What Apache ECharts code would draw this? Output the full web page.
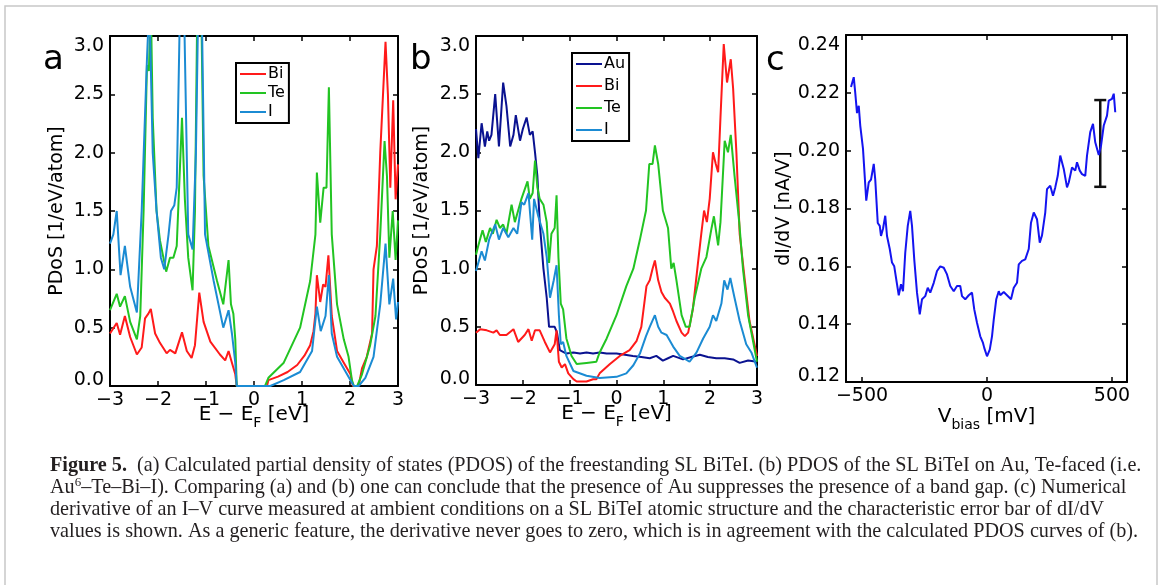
<!DOCTYPE html>
<html><head><meta charset="utf-8">
<script src="https://cdn.jsdelivr.net/npm/echarts@6/dist/echarts.min.js"></script>
<style>html,body{margin:0;padding:0;background:#fff}#c{width:1168px;height:585px}</style>
</head><body><div id="c"></div>
<script>
// ---------- Panel a: freestanding SL BiTeI PDOS  [E (eV), PDOS] ----------
const aBi = [[-3.00,0.45],[-2.86,0.54],[-2.79,0.44],[-2.69,0.60],[-2.58,0.42],[-2.44,0.27],[-2.34,0.33],[-2.27,0.58],[-2.20,0.62],[-2.15,0.66],[-2.06,0.45],[-1.96,0.37],[-1.82,0.28],[-1.75,0.31],[-1.64,0.28],[-1.50,0.46],[-1.40,0.30],[-1.30,0.24],[-1.23,0.35],[-1.14,0.80],[-1.05,0.55],[-0.91,0.38],[-0.71,0.27],[-0.60,0.22],[-0.53,0.30],[-0.46,0.20],[-0.39,0.10],[-0.36,0.00],[0.27,0.00],[0.30,0.05],[0.50,0.08],[0.70,0.12],[0.90,0.18],[1.05,0.26],[1.17,0.35],[1.24,0.47],[1.28,0.62],[1.31,0.95],[1.38,0.72],[1.44,0.87],[1.49,0.85],[1.55,1.12],[1.62,0.60],[1.73,0.30],[1.87,0.20],[2.01,0.10],[2.06,0.00],[2.18,0.00],[2.25,0.15],[2.35,0.25],[2.46,0.45],[2.49,1.00],[2.56,1.20],[2.63,2.00],[2.74,2.95],[2.79,2.50],[2.84,1.70],[2.90,2.45],[2.95,1.60],[3.00,1.90]];
const aTe = [[-3.00,0.65],[-2.86,0.79],[-2.79,0.68],[-2.69,0.77],[-2.58,0.55],[-2.44,0.40],[-2.37,0.60],[-2.30,1.50],[-2.23,2.75],[-2.19,2.70],[-2.15,3.30],[-2.11,2.30],[-2.03,1.50],[-1.96,1.25],[-1.83,0.98],[-1.75,1.10],[-1.68,1.10],[-1.61,1.20],[-1.50,2.30],[-1.44,1.60],[-1.37,1.10],[-1.28,0.82],[-1.23,1.50],[-1.18,3.30],[-1.10,3.30],[-1.05,1.80],[-0.95,1.20],[-0.77,0.90],[-0.64,0.70],[-0.53,1.08],[-0.48,0.70],[-0.43,0.62],[-0.39,0.40],[-0.36,0.00],[0.23,0.00],[0.30,0.07],[0.62,0.20],[0.96,0.50],[1.17,0.90],[1.28,1.30],[1.31,1.83],[1.38,1.40],[1.45,1.70],[1.51,1.70],[1.56,2.56],[1.62,1.30],[1.73,0.70],[1.87,0.40],[1.97,0.25],[2.04,0.05],[2.08,0.00],[2.15,0.00],[2.25,0.10],[2.42,0.35],[2.53,0.60],[2.63,1.30],[2.72,2.10],[2.77,1.80],[2.82,1.10],[2.89,1.50],[2.95,1.08],[3.00,1.42]];
const aI = [[-3.00,1.22],[-2.93,1.30],[-2.86,1.50],[-2.78,0.95],[-2.69,1.20],[-2.58,0.85],[-2.44,0.63],[-2.34,1.50],[-2.23,2.80],[-2.18,3.30],[-2.11,2.00],[-2.03,1.50],[-1.94,1.10],[-1.87,1.00],[-1.78,1.30],[-1.73,1.50],[-1.66,1.55],[-1.61,1.70],[-1.54,3.30],[-1.46,3.30],[-1.37,1.30],[-1.28,1.17],[-1.21,2.00],[-1.16,3.30],[-1.09,3.30],[-1.02,1.30],[-0.84,0.90],[-0.64,0.50],[-0.53,0.65],[-0.46,0.45],[-0.39,0.20],[-0.36,0.00],[0.34,0.00],[0.62,0.05],[0.96,0.12],[1.21,0.30],[1.31,0.68],[1.39,0.47],[1.49,0.60],[1.56,0.95],[1.62,0.45],[1.73,0.25],[1.87,0.15],[2.01,0.05],[2.08,0.00],[2.18,0.00],[2.32,0.07],[2.49,0.25],[2.63,0.70],[2.74,1.22],[2.82,0.70],[2.90,0.92],[2.96,0.57],[3.00,0.72]];

// ---------- Panel b: SL BiTeI on Au PDOS ----------
const bAu = [[-3.00,2.20],[-2.95,1.95],[-2.88,2.25],[-2.81,2.05],[-2.76,2.18],[-2.72,2.10],[-2.67,2.15],[-2.59,2.50],[-2.51,2.05],[-2.42,2.60],[-2.35,2.40],[-2.27,2.05],[-2.20,2.15],[-2.15,2.32],[-2.06,2.10],[-2.00,2.20],[-1.92,2.30],[-1.85,2.15],[-1.79,2.18],[-1.74,2.00],[-1.69,1.80],[-1.64,1.40],[-1.56,1.00],[-1.49,0.75],[-1.44,0.50],[-1.32,0.50],[-1.27,0.45],[-1.21,0.30],[-1.07,0.27],[-0.92,0.28],[-0.78,0.27],[-0.64,0.28],[-0.50,0.27],[-0.36,0.28],[-0.21,0.27],[0.00,0.27],[0.18,0.26],[0.35,0.25],[0.53,0.24],[0.71,0.23],[0.85,0.25],[0.99,0.21],[1.10,0.23],[1.21,0.25],[1.42,0.22],[1.60,0.24],[1.78,0.26],[1.95,0.24],[2.13,0.23],[2.31,0.23],[2.49,0.22],[2.63,0.19],[2.81,0.21],[3.00,0.20]];
const bBi = [[-3.00,0.45],[-2.91,0.48],[-2.77,0.47],[-2.63,0.45],[-2.56,0.47],[-2.49,0.43],[-2.35,0.43],[-2.20,0.48],[-2.10,0.37],[-1.96,0.43],[-1.88,0.48],[-1.81,0.38],[-1.74,0.47],[-1.64,0.47],[-1.53,0.37],[-1.42,0.28],[-1.32,0.35],[-1.28,0.47],[-1.23,0.20],[-1.17,0.15],[-1.10,0.18],[-1.03,0.10],[-0.92,0.05],[-0.85,0.03],[-0.64,0.03],[-0.50,0.05],[-0.43,0.05],[-0.36,0.10],[-0.14,0.18],[0.07,0.25],[0.28,0.30],[0.43,0.38],[0.53,0.50],[0.64,0.85],[0.71,0.90],[0.77,1.00],[0.82,1.07],[0.89,0.90],[0.96,0.80],[1.03,0.75],[1.14,0.70],[1.21,0.63],[1.28,0.55],[1.39,0.45],[1.46,0.42],[1.53,0.45],[1.63,0.65],[1.74,1.05],[1.81,1.30],[1.87,1.50],[1.93,1.40],[1.99,1.60],[2.06,2.00],[2.12,1.90],[2.17,1.83],[2.22,2.30],[2.29,2.93],[2.36,2.60],[2.44,2.80],[2.49,2.55],[2.56,2.00],[2.63,1.30],[2.74,0.90],[2.84,0.55],[3.00,0.25]];
const bTe = [[-3.00,1.12],[-2.95,1.20],[-2.86,1.33],[-2.79,1.23],[-2.70,1.35],[-2.64,1.30],[-2.56,1.42],[-2.49,1.35],[-2.42,1.38],[-2.35,1.30],[-2.24,1.55],[-2.17,1.40],[-2.10,1.50],[-2.03,1.60],[-1.90,1.75],[-1.85,1.60],[-1.79,1.65],[-1.74,1.93],[-1.69,1.70],[-1.64,1.60],[-1.56,1.55],[-1.49,1.40],[-1.44,1.05],[-1.39,1.30],[-1.32,1.35],[-1.28,1.63],[-1.24,1.10],[-1.19,0.70],[-1.14,0.65],[-1.07,0.40],[-0.96,0.25],[-0.85,0.18],[-0.64,0.19],[-0.43,0.20],[-0.36,0.28],[-0.21,0.40],[0.00,0.60],[0.21,0.85],[0.36,1.00],[0.50,1.25],[0.63,1.50],[0.70,1.90],[0.77,1.90],[0.82,2.06],[0.89,1.90],[0.99,1.50],[1.10,1.35],[1.17,1.00],[1.22,1.05],[1.28,0.90],[1.39,0.60],[1.48,0.50],[1.56,0.50],[1.67,0.75],[1.81,1.00],[1.92,1.10],[2.03,1.35],[2.08,1.45],[2.17,1.20],[2.22,1.40],[2.31,2.10],[2.38,2.00],[2.44,2.15],[2.52,1.80],[2.62,1.40],[2.70,1.00],[2.81,0.60],[3.00,0.20]];
const bI = [[-3.00,0.98],[-2.88,1.15],[-2.81,1.07],[-2.72,1.25],[-2.59,1.38],[-2.51,1.25],[-2.42,1.35],[-2.31,1.27],[-2.20,1.35],[-2.12,1.30],[-2.03,1.57],[-1.97,1.55],[-1.88,1.65],[-1.83,1.40],[-1.80,1.25],[-1.76,1.60],[-1.67,1.45],[-1.56,1.30],[-1.49,1.10],[-1.42,0.75],[-1.34,0.90],[-1.28,1.03],[-1.23,0.60],[-1.19,0.35],[-1.14,0.37],[-1.07,0.25],[-0.92,0.12],[-0.64,0.08],[-0.36,0.06],[0.00,0.07],[0.21,0.10],[0.36,0.17],[0.50,0.27],[0.63,0.42],[0.71,0.50],[0.82,0.60],[0.89,0.50],[0.96,0.45],[1.07,0.43],[1.21,0.33],[1.35,0.25],[1.48,0.22],[1.56,0.20],[1.71,0.28],[1.85,0.40],[1.99,0.50],[2.06,0.60],[2.13,0.55],[2.24,0.70],[2.30,0.90],[2.37,0.82],[2.43,0.92],[2.52,0.75],[2.63,0.55],[2.77,0.35],[2.88,0.28],[3.00,0.15]];

// ---------- Panel c: measured dI/dV  [V_bias (mV), dI/dV (nA/V)] ----------
const cDidv = [[-544,0.222],[-533,0.2254],[-527,0.220],[-520,0.213],[-513,0.2155],[-507,0.2087],[-496,0.2006],[-491,0.1937],[-483,0.1827],[-473,0.189],[-464,0.190],[-453,0.1954],[-447,0.190],[-437,0.175],[-429,0.174],[-424,0.1705],[-416,0.173],[-407,0.1775],[-400,0.1705],[-389,0.166],[-380,0.1613],[-371,0.160],[-363,0.1555],[-353,0.150],[-344,0.1538],[-336,0.1514],[-327,0.1647],[-317,0.174],[-307,0.1792],[-300,0.174],[-291,0.1624],[-280,0.1509],[-269,0.1434],[-260,0.1486],[-247,0.1497],[-237,0.1526],[-227,0.1509],[-213,0.1543],[-200,0.1584],[-187,0.160],[-173,0.1595],[-160,0.1572],[-147,0.1532],[-133,0.1514],[-120,0.1532],[-107,0.1532],[-100,0.1497],[-87,0.1486],[-73,0.150],[-60,0.1509],[-51,0.1451],[-40,0.1405],[-27,0.1358],[-16,0.1335],[-11,0.1318],[0,0.1289],[11,0.1312],[20,0.1358],[27,0.1416],[37,0.1486],[47,0.1514],[53,0.150],[67,0.1511],[80,0.150],[96,0.1486],[107,0.1526],[120,0.1543],[127,0.1607],[140,0.1619],[153,0.1624],[167,0.166],[176,0.1751],[187,0.1786],[200,0.1763],[211,0.1682],[220,0.1707],[233,0.1786],[240,0.1867],[253,0.1879],[264,0.1844],[273,0.1873],[283,0.1913],[293,0.1983],[307,0.1937],[320,0.1873],[327,0.189],[340,0.1942],[353,0.1931],[360,0.196],[371,0.1931],[380,0.1919],[393,0.1913],[400,0.1983],[413,0.2064],[424,0.2093],[433,0.2029],[447,0.1985],[456,0.2017],[467,0.2087],[480,0.2121],[487,0.2173],[500,0.2179],[507,0.2197],[513,0.2133]];
const cErrorBar = [[453, 0.1875, 0.2175]]; // [V, low, high]

// ---------- ticks / labels ----------
const eTicks = [-3,-2,-1,0,1,2,3];
const pdosTicks = [0,0.5,1,1.5,2,2.5,3];
const vTicks = [-500,0,500];
const didvTicks = [0.12,0.14,0.16,0.18,0.20,0.22,0.24];
const legendA = ['Bi','Te','I'];
const legendB = ['Au','Bi','Te','I'];
const caption = [
  '{b|Figure 5.}  (a) Calculated partial density of states (PDOS) of the freestanding SL BiTeI. (b) PDOS of the SL BiTeI on Au, Te-faced (i.e.',
  'Au{sup|6}–Te–Bi–I). Comparing (a) and (b) one can conclude that the presence of Au suppresses the presence of a band gap. (c) Numerical',
  'derivative of an I–V curve measured at ambient conditions on a SL BiTeI atomic structure and the characteristic error bar of dI/dV',
  'values is shown. As a generic feature, the derivative never goes to zero, which is in agreement with the calculated PDOS curves of (b).'
];

const COL = {Au:'#0a1290', Bi:'#ff1a1a', Te:'#22c422', I:'#1b8bd3', c:'#1414f0'};
const FONT = 'DejaVu Sans';
const TFS = 19;
const minus = v => (v < 0 ? '\u2212' + Math.abs(v) : String(v));

function xAxes(gi, min, max, ticks, fmt, name, gap) {
  const base = {gridIndex: gi, type: 'value', min: min, max: max,
    splitLine: {show: false},
    axisLine: {show: true, onZero: false, lineStyle: {color: '#000', width: 2}},
    axisTick: {show: true, inside: true, length: 5, customValues: ticks, lineStyle: {color: '#000', width: 1.5}}};
  return [
    Object.assign({}, base, {position: 'bottom',
      axisLabel: {show: true, customValues: ticks, formatter: fmt, color: '#000', fontFamily: FONT, fontSize: TFS, margin: 5},
      name: name, nameLocation: 'middle', nameGap: gap, nameMoveOverlap: false,
      nameTextStyle: {color: '#000', fontFamily: FONT, fontSize: 20, lineHeight: 22,
        rich: {s: {fontFamily: FONT, fontSize: 14, color: '#000', lineHeight: 30, verticalAlign: 'bottom'}}}}),
    Object.assign({}, base, {position: 'top', axisLabel: {show: false}})
  ];
}
function yAxes(gi, min, max, ticks, fmt, name, gap) {
  const base = {gridIndex: gi, type: 'value', min: min, max: max,
    splitLine: {show: false},
    axisLine: {show: true, onZero: false, lineStyle: {color: '#000', width: 2}},
    axisTick: {show: true, inside: true, length: 5, customValues: ticks, lineStyle: {color: '#000', width: 1.5}}};
  return [
    Object.assign({}, base, {position: 'left',
      axisLabel: {show: true, customValues: ticks, color: '#000', fontFamily: FONT, fontSize: TFS, margin: 6, lineHeight: 12,
        formatter: v => (Math.abs(v - max) < 1e-9 ? '{t|' + fmt(v) + '}' : fmt(v)),
        rich: {t: {fontFamily: FONT, fontSize: TFS, color: '#000', lineHeight: 12, padding: [9, 0, 0, 0]}},
        verticalAlignMinLabel: 'bottom', verticalAlignMaxLabel: 'top'},
      name: name, nameLocation: 'middle', nameGap: gap, nameMoveOverlap: false,
      nameTextStyle: {color: '#000', fontFamily: FONT, fontSize: TFS}}),
    Object.assign({}, base, {position: 'right', axisLabel: {show: false}})
  ];
}

const eName = 'E \u2212 E{s|F} [eV]';
const xAxis = [].concat(
  xAxes(0, -3, 3, eTicks, minus, eName, 14),
  xAxes(1, -3, 3, eTicks, minus, eName, 14),
  xAxes(2, -564, 560, vTicks, minus, 'V{s|bias} [mV]', 20)
);
const yAxis = [].concat(
  yAxes(0, 0, 3, pdosTicks, v => v.toFixed(1), 'PDoS [1/eV/atom]', 43),
  yAxes(1, 0, 3, pdosTicks, v => v.toFixed(1), 'PDoS [1/eV/atom]', 44),
  yAxes(2, 0.12, 0.24, didvTicks, v => v.toFixed(2), 'dI/dV [nA/V]', 52)
);

function line(name, data, xi, yi, color) {
  return {type: 'line', name: name, data: data, xAxisIndex: xi, yAxisIndex: yi,
    showSymbol: false, symbol: 'none', clip: true,
    lineStyle: {color: color, width: 2}, itemStyle: {color: color}};
}
const series = [
  line('Bi', aBi, 0, 0, COL.Bi), line('Te', aTe, 0, 0, COL.Te), line('I', aI, 0, 0, COL.I),
  line('Au', bAu, 2, 2, COL.Au), line('Bi', bBi, 2, 2, COL.Bi), line('Te', bTe, 2, 2, COL.Te), line('I', bI, 2, 2, COL.I),
  line('dI/dV', cDidv, 4, 4, COL.c),
  {type: 'custom', name: 'error', xAxisIndex: 4, yAxisIndex: 4, data: cErrorBar, encode: {x: 0, y: [1, 2]},
    renderItem: function (params, api) {
      const lo = api.coord([api.value(0), api.value(1)]);
      const hi = api.coord([api.value(0), api.value(2)]);
      const hw = 6, st = {stroke: '#111', lineWidth: 2.5};
      return {type: 'group', children: [
        {type: 'line', shape: {x1: lo[0], y1: lo[1], x2: hi[0], y2: hi[1]}, style: st},
        {type: 'line', shape: {x1: lo[0] - hw, y1: lo[1], x2: lo[0] + hw, y2: lo[1]}, style: st},
        {type: 'line', shape: {x1: hi[0] - hw, y1: hi[1], x2: hi[0] + hw, y2: hi[1]}, style: st}
      ]};
    }}
];

const legendCommon = {orient: 'vertical', selectedMode: false, icon: 'rect', itemWidth: 26, itemHeight: 2,
  borderColor: '#000', borderWidth: 2, backgroundColor: '#fff', padding: [2, 4, 2, 4],
  textStyle: {fontFamily: FONT, fontSize: 16, color: '#000', lineHeight: 18, padding: [0, 0, 0, -3]}};
const legend = [
  Object.assign({}, legendCommon, {left: 236, top: 63, data: legendA, itemGap: 1}),
  Object.assign({}, legendCommon, {left: 572, top: 53, data: legendB, itemGap: 4})
];

// caption font size fit
const plain = caption[1].replace(/\{sup\|6\}/, '6');
const cv = document.createElement('canvas').getContext('2d');
cv.font = '100px "Liberation Serif"';
const capFs = Math.round(100 * 1078 / cv.measureText(plain).width * 10) / 10;
const capLH = Math.round(capFs * 1.15);

const graphic = [
  {type: 'rect', silent: true, z: -10, shape: {x: 5, y: 6, width: 1152, height: 620}, style: {fill: 'none', stroke: '#c8c8c8', lineWidth: 1.5}},
  {type: 'text', x: 43, y: 60, style: {text: 'a', font: '34px "DejaVu Sans"', fill: '#000', textVerticalAlign: 'middle'}},
  {type: 'text', x: 410, y: 60, style: {text: 'b', font: '34px "DejaVu Sans"', fill: '#000', textVerticalAlign: 'middle'}},
  {type: 'text', x: 766, y: 61, style: {text: 'c', font: '34px "DejaVu Sans"', fill: '#000', textVerticalAlign: 'middle'}}
].concat(caption.map((t, i) => ({
  type: 'text', x: 50, y: 466 + i * 22,
  style: {text: t, fill: '#231f20', font: capFs + 'px "Liberation Serif"', lineHeight: capLH, textVerticalAlign: 'middle',
    rich: {
      b: {fontFamily: 'Liberation Serif', fontWeight: 'bold', fontSize: capFs, lineHeight: capLH, fill: '#231f20'},
      sup: {fontFamily: 'Liberation Serif', fontSize: Math.round(capFs * 0.62), lineHeight: capLH, verticalAlign: 'top', fill: '#231f20'}
    }}
})));

const chart = echarts.init(document.getElementById('c'), null, {renderer: 'canvas'});
chart.setOption({
  animation: false,
  backgroundColor: '#fff',
  grid: [
    {left: 110, top: 36, width: 288, height: 350},
    {left: 476, top: 36, width: 281, height: 349},
    {left: 846, top: 35, width: 281, height: 347}
  ],
  xAxis: xAxis, yAxis: yAxis, legend: legend, series: series, graphic: graphic
});
</script></body></html>
